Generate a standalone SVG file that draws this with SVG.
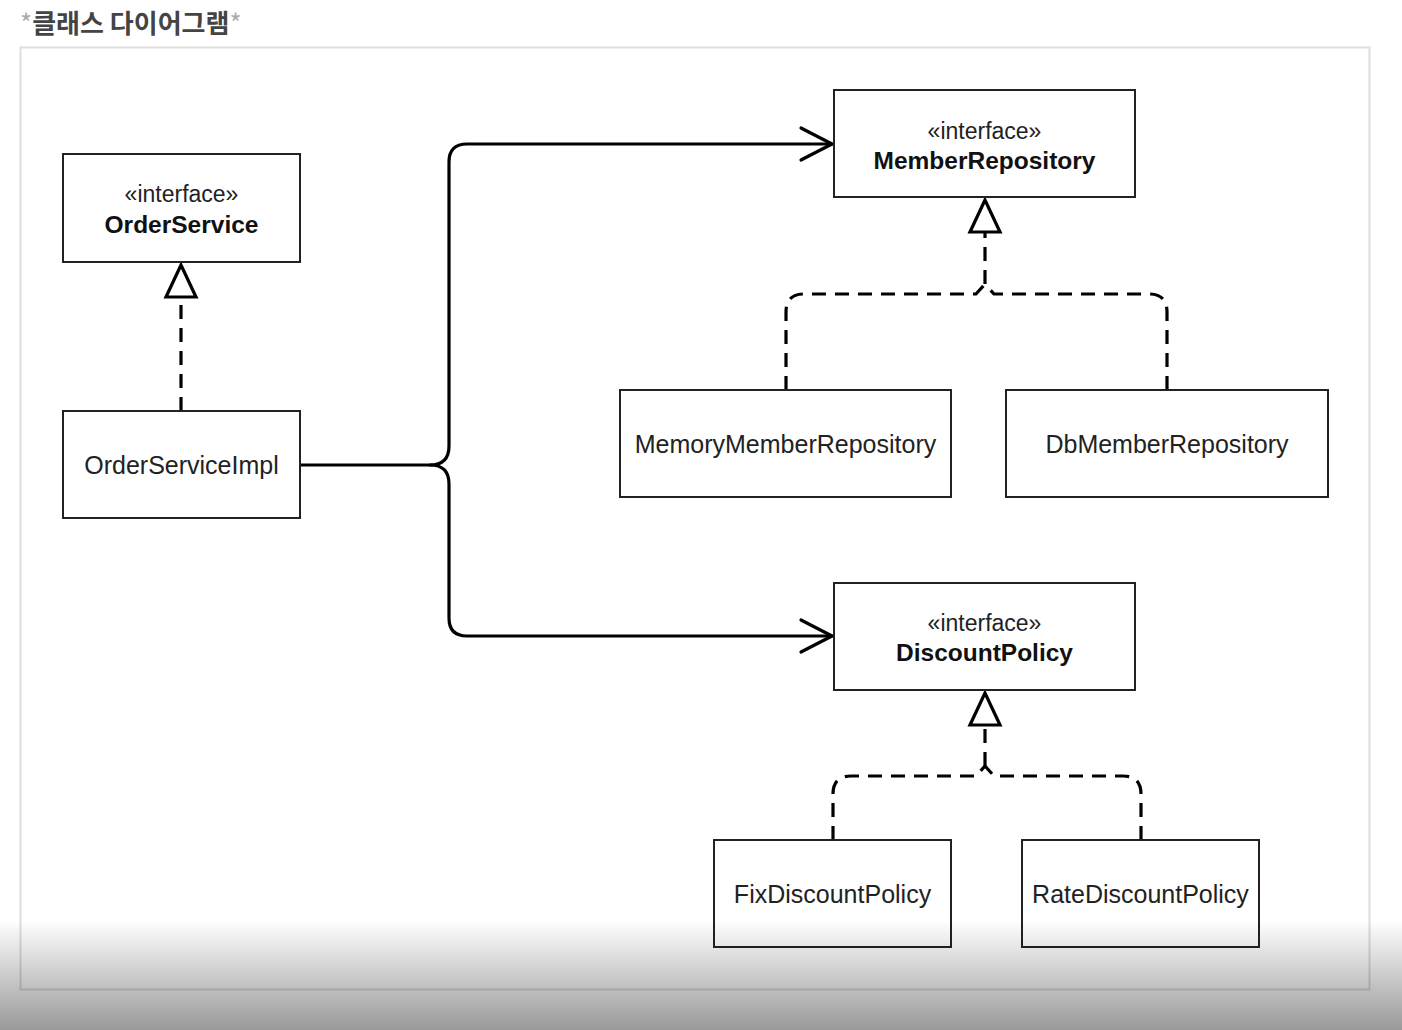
<svg xmlns="http://www.w3.org/2000/svg" width="1402" height="1030" viewBox="0 0 1402 1030">
<defs>
<style>
.box{fill:#fff;stroke:#222;stroke-width:2}
.st{font-family:"Liberation Sans",Arial,sans-serif;font-size:23px;fill:#222;text-anchor:middle}
.nm{font-family:"Liberation Sans",Arial,sans-serif;font-size:24.5px;font-weight:bold;fill:#111;text-anchor:middle}
.tx{font-family:"Liberation Sans",Arial,sans-serif;font-size:25px;fill:#222;text-anchor:middle}
.assoc{fill:none;stroke:#000;stroke-width:3.2;stroke-linejoin:round;stroke-linecap:round}
.real{fill:none;stroke:#000;stroke-width:3.2;stroke-dasharray:14 9}
.tri{fill:#fff;stroke:#000;stroke-width:3.2;stroke-linejoin:miter}
</style>
<linearGradient id="fade" x1="0" y1="0" x2="0" y2="1">
<stop offset="0" stop-color="#000" stop-opacity="0"/>
<stop offset="1" stop-color="#000" stop-opacity="0.4"/>
</linearGradient>
</defs>
<rect width="1402" height="1030" fill="#fff"/>
<text x="20" y="33" font-family="'Noto Sans CJK KR',sans-serif" font-size="26" font-weight="bold" fill="#444"><tspan fill="#aaa" font-weight="normal">*</tspan>클래스 다이어그램<tspan fill="#aaa" font-weight="normal">*</tspan></text>
<rect x="20.5" y="47.5" width="1349" height="942" fill="#fff" stroke="#ddd" stroke-width="2"/>

<g id="connectors">
<path class="assoc" d="M300,465 H430 Q449,465 449,446 V162 Q449,144 467,144 H832"/>
<path class="assoc" d="M430,465 Q449,465 449,484 V618 Q449,636 467,636 H832"/>
<path class="assoc" d="M801,128 L832,144 L801,160"/>
<path class="assoc" d="M801,620 L832,636 L801,652"/>

<path class="real" d="M181,411 V297"/>
<polygon class="tri" points="181,265 166,297 196,297"/>

<path class="real" d="M786,390 V312 Q786,294 804,294 H976 L985,284"/>
<path class="real" d="M1167,390 V312 Q1167,294 1149,294 H994 L985,284"/>
<path class="real" d="M985,284 V232"/>
<polygon class="tri" points="985,200 970,232 1000,232"/>

<path class="real" d="M833,840 V794 Q833,776 851,776 H976 L985,766"/>
<path class="real" d="M1141,840 V794 Q1141,776 1123,776 H994 L985,766"/>
<path class="real" d="M985,766 V725"/>
<polygon class="tri" points="985,693 970,725 1000,725"/>
</g>

<g id="OrderService">
<rect class="box" x="63" y="154" width="237" height="108"/>
<text class="st" x="181.5" y="202">«interface»</text>
<text class="nm" x="181.5" y="233">OrderService</text>
</g>
<g id="OrderServiceImpl">
<rect class="box" x="63" y="411" width="237" height="107"/>
<text class="tx" x="181.5" y="474">OrderServiceImpl</text>
</g>
<g id="MemberRepository">
<rect class="box" x="834" y="90" width="301" height="107"/>
<text class="st" x="984.5" y="139">«interface»</text>
<text class="nm" x="984.5" y="169">MemberRepository</text>
</g>
<g id="MemoryMemberRepository">
<rect class="box" x="620" y="390" width="331" height="107"/>
<text class="tx" x="785.5" y="453">MemoryMemberRepository</text>
</g>
<g id="DbMemberRepository">
<rect class="box" x="1006" y="390" width="322" height="107"/>
<text class="tx" x="1167" y="453">DbMemberRepository</text>
</g>
<g id="DiscountPolicy">
<rect class="box" x="834" y="583" width="301" height="107"/>
<text class="st" x="984.5" y="631">«interface»</text>
<text class="nm" x="984.5" y="661">DiscountPolicy</text>
</g>
<g id="FixDiscountPolicy">
<rect class="box" x="714" y="840" width="237" height="107"/>
<text class="tx" x="832.5" y="903">FixDiscountPolicy</text>
</g>
<g id="RateDiscountPolicy">
<rect class="box" x="1022" y="840" width="237" height="107"/>
<text class="tx" x="1140.5" y="903">RateDiscountPolicy</text>
</g>

<rect x="0" y="920" width="1402" height="110" fill="url(#fade)"/>
</svg>
